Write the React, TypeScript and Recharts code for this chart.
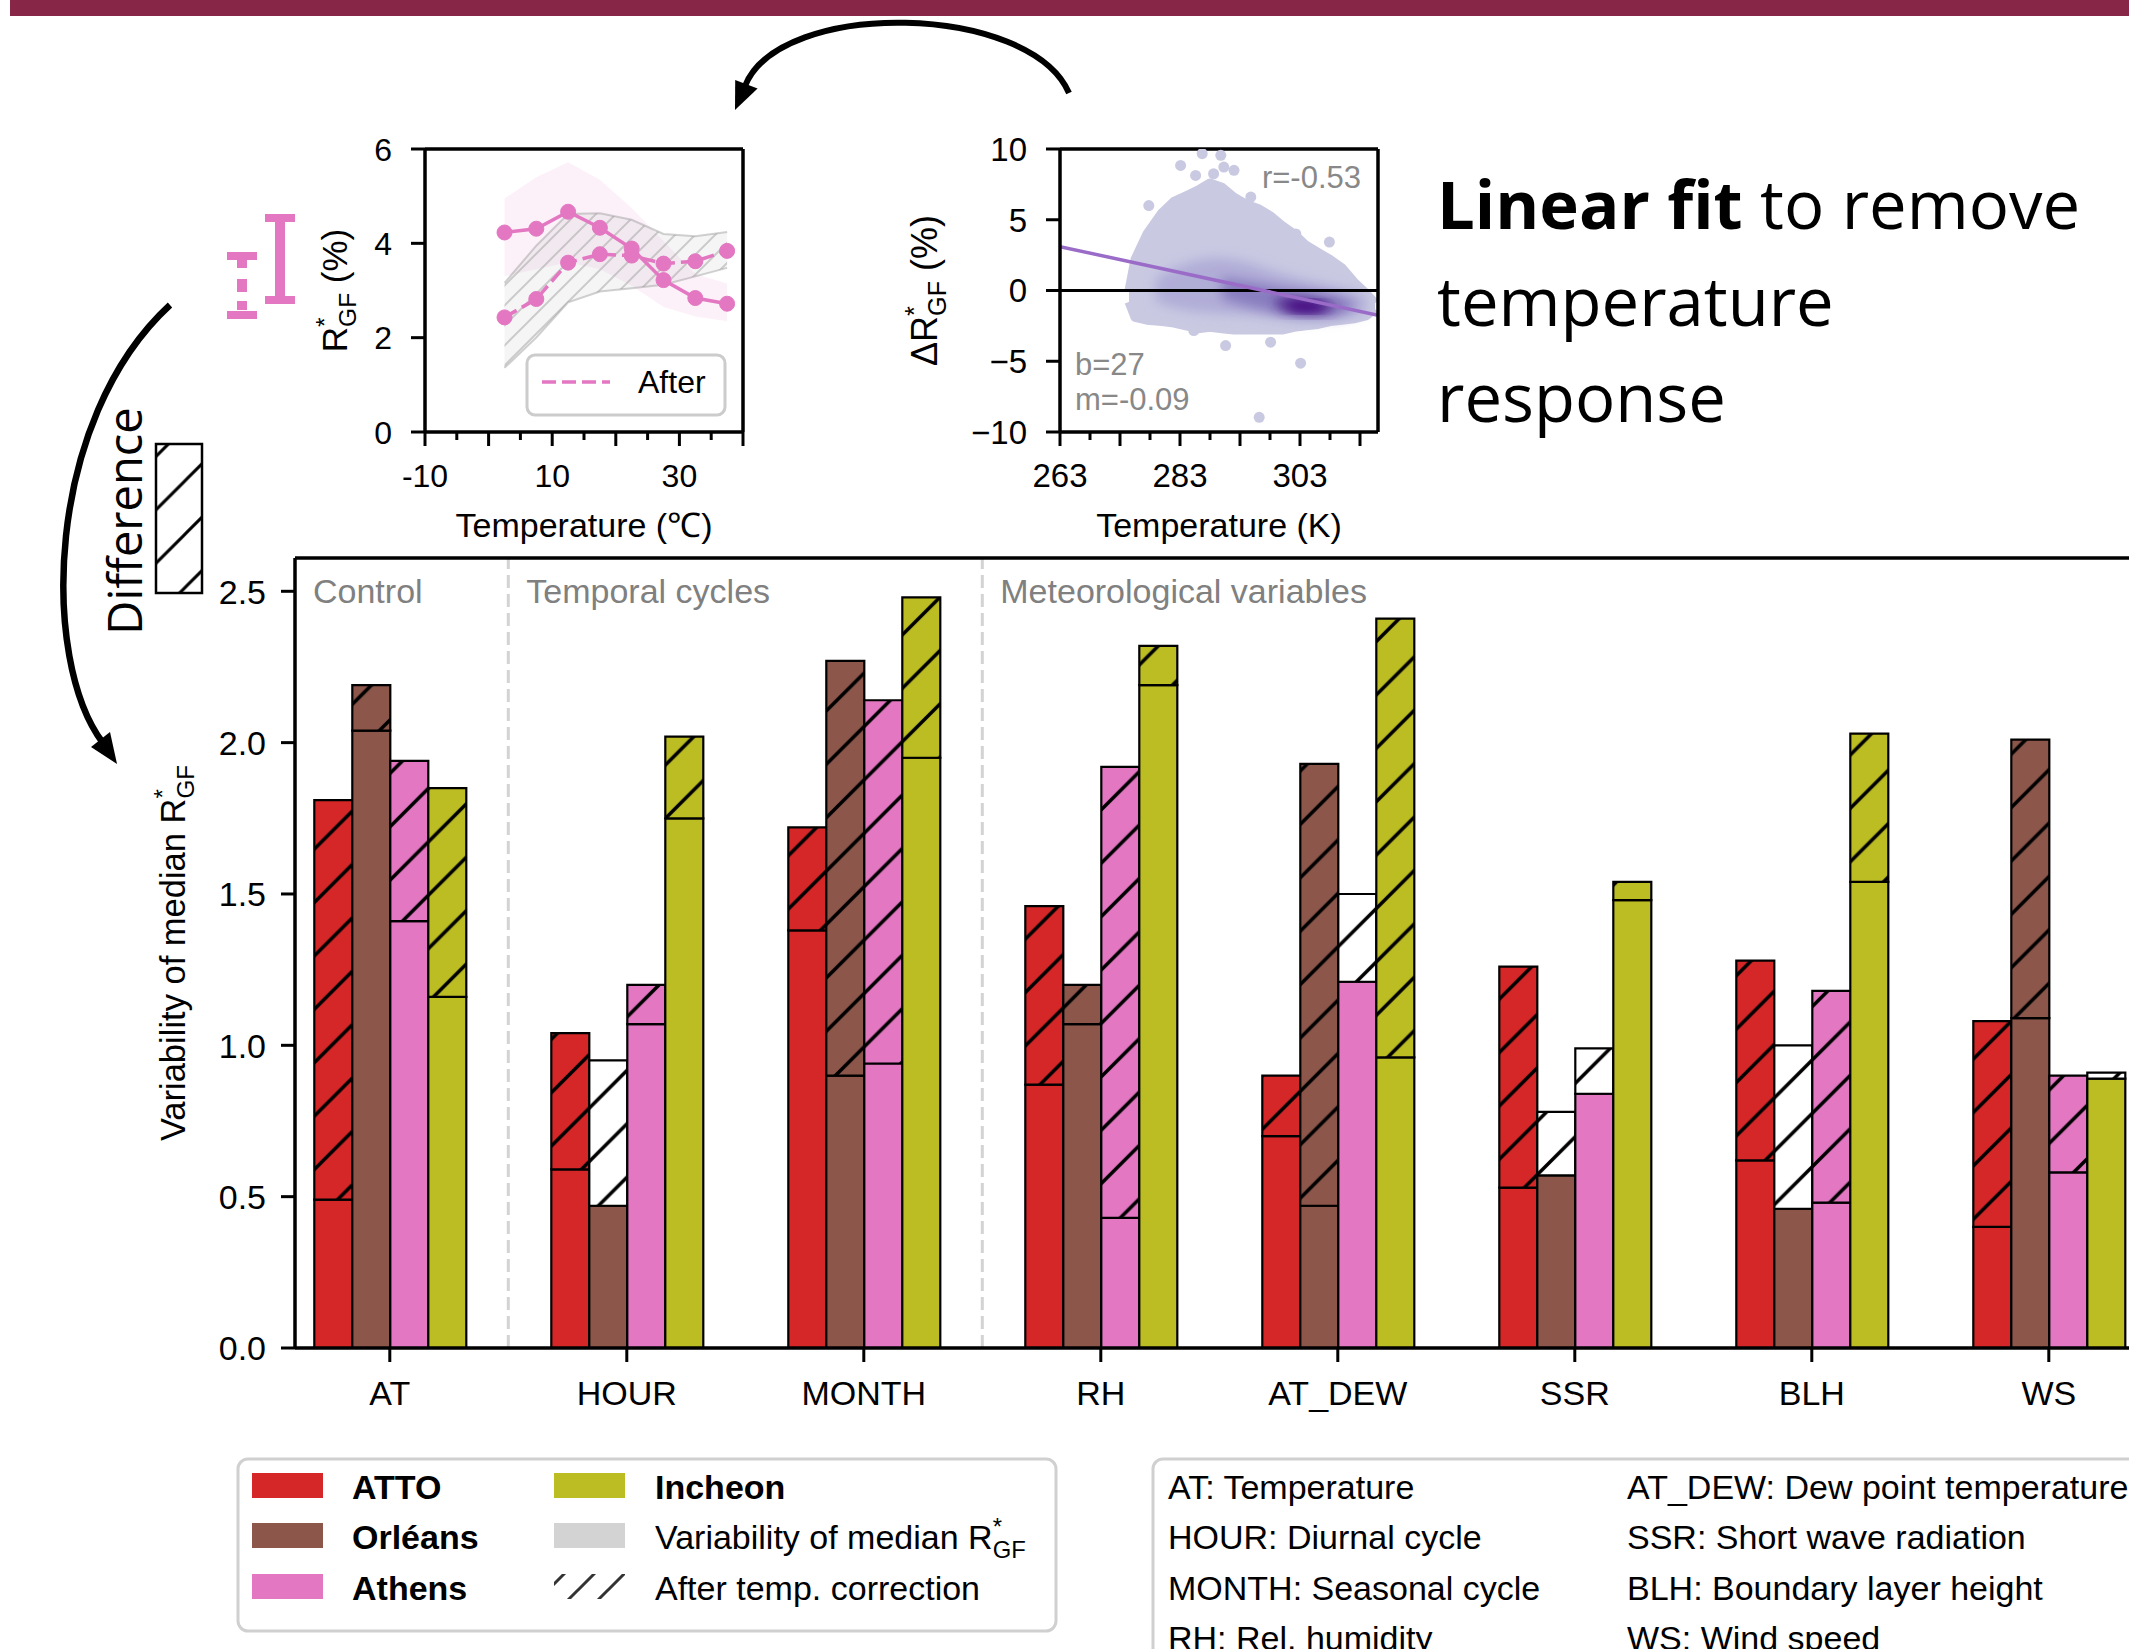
import React from 'react';
import {
  BarChart,
  Bar,
  Cell,
  ComposedChart,
  Line,
  Area,
  Scatter,
  XAxis,
  YAxis,
  ReferenceLine,
} from 'recharts';

const SANS = '"Liberation Sans", Arial, Helvetica, sans-serif';
const POSTER = '"Open Sans", "Noto Sans", sans-serif';

// ---------- main panel ----------
const variables = ['AT', 'HOUR', 'MONTH', 'RH', 'AT_DEW', 'SSR', 'BLH', 'WS'];
const variableNames = [
  'Temperature',
  'Diurnal cycle',
  'Seasonal cycle',
  'Rel. humidity',
  'Dew point temperature',
  'Short wave radiation',
  'Boundary layer height',
  'Wind speed',
];
const sites = ['ATTO', 'Orléans', 'Athens', 'Incheon'];
const siteKeys = ['atto', 'orleans', 'athens', 'incheon'];
const siteColors = ['#d62728', '#8c564b', '#e377c2', '#bcbd22'];

// variability of median R*GF, before / after the temperature correction
const attoBefore = [1.81, 1.04, 1.72, 1.46, 0.9, 1.26, 1.28, 1.08];
const attoAfter = [0.49, 0.59, 1.38, 0.87, 0.7, 0.53, 0.62, 0.4];
const orleansBefore = [2.19, 0.47, 2.27, 1.2, 1.93, 0.57, 0.46, 2.01];
const orleansAfter = [2.04, 0.95, 0.9, 1.07, 0.47, 0.78, 1.0, 1.09];
const athensBefore = [1.94, 1.2, 2.14, 1.92, 1.21, 0.84, 1.18, 0.9];
const athensAfter = [1.41, 1.07, 0.94, 0.43, 1.5, 0.99, 0.48, 0.58];
const incheonBefore = [1.85, 2.02, 2.48, 2.32, 2.41, 1.54, 2.03, 0.89];
const incheonAfter = [1.16, 1.75, 1.95, 2.19, 0.96, 1.48, 1.54, 0.91];

const groupLabels = ['Control', 'Temporal cycles', 'Meteorological variables'];
const groupStarts = [-0.4, 0.5, 2.5];
const mainYTicks = [0, 0.5, 1, 1.5, 2, 2.5];
const MAIN_YMAX = 2.61;
const MAIN_XDOMAIN = [-0.4, 7.389];

// ---------- inset: R*GF vs temperature ----------
const insetTemps = [2.5, 7.5, 12.5, 17.5, 22.5, 27.5, 32.5, 37.5];
const insetBefore = [4.23, 4.31, 4.67, 4.33, 3.89, 3.22, 2.84, 2.72];
const insetAfter = [2.43, 2.82, 3.59, 3.77, 3.74, 3.57, 3.62, 3.84];
const insetBeforeLo = [3.3, 3.45, 3.6, 3.45, 3.1, 2.65, 2.45, 2.35];
const insetBeforeHi = [4.95, 5.4, 5.72, 5.35, 4.75, 4.05, 3.35, 3.15];
const insetAfterLo = [1.36, 2.0, 2.75, 2.98, 3.05, 3.12, 3.3, 3.48];
const insetAfterHi = [3.16, 3.95, 4.62, 4.64, 4.5, 4.2, 4.15, 4.24];
const celsiusTicks = [-10, -5, 0, 5, 10, 15, 20, 25, 30, 35, 40];
const celsiusLabels = [-10, 10, 30];

// ---------- inset: delta R*GF vs temperature (K) ----------
const cloudT = [274.5, 275.5, 277.5, 280, 282, 284, 286, 288, 290, 292, 294, 296, 298, 300, 302, 304, 306, 308, 310, 312, 314, 315.5];
const cloudHi = [0.0, 2.2, 4.0, 5.5, 6.3, 6.7, 7.1, 7.6, 7.3, 6.6, 6.1, 5.8, 5.3, 4.6, 4.0, 3.2, 2.7, 2.2, 1.6, 0.6, -0.2, -0.9];
const cloudLo = [-0.8, -1.9, -2.1, -2.2, -2.3, -2.5, -2.7, -2.6, -2.7, -2.8, -2.8, -2.8, -2.8, -2.8, -2.6, -2.5, -2.4, -2.2, -2.1, -2.0, -1.8, -1.3];
const midT = [279, 284, 289, 294, 299, 304, 309, 314];
const midHi = [0.9, 1.9, 2.3, 2.0, 1.3, 0.7, 0.2, -0.4];
const midLo = [-0.8, -1.4, -1.6, -1.7, -1.9, -2.1, -2.0, -1.5];
const innerT = [290, 295, 300, 305, 310, 312];
const innerHi = [0.9, 0.6, 0.2, -0.1, -0.5, -0.8];
const innerLo = [-0.6, -1.2, -1.6, -1.8, -1.6, -1.2];
const darkT = [299, 302, 305, 307, 309];
const darkHi = [-0.5, -0.5, -0.6, -0.8, -1.0];
const darkLo = [-1.2, -1.6, -1.7, -1.6, -1.3];
const coreT = [301, 304, 307];
const coreHi = [-0.8, -0.8, -0.9];
const coreLo = [-1.3, -1.5, -1.3];
const outlierT = [283.1, 286.7, 289.8, 290.3, 292.0, 285.6, 288.6, 294.8, 277.8, 302.3, 307.9, 290.6, 298.1, 303.1, 296.2, 285.3];
const outlierV = [8.84, 9.67, 9.55, 8.72, 8.49, 8.13, 8.25, 6.6, 6.0, 4.0, 3.42, -3.89, -3.65, -5.14, -8.96, -2.83];
const fitT = [263, 316];
const fitV = [3.1, -1.75];
const kelvinTicks = [263, 268, 273, 278, 283, 288, 293, 298, 303, 308, 313];
const kelvinLabels = [263, 283, 303];
const deltaTicks = [-10, -5, 0, 5, 10];

// ---------- derived tables ----------
const beforeAll = [attoBefore, orleansBefore, athensBefore, incheonBefore];
const afterAll = [attoAfter, orleansAfter, athensAfter, incheonAfter];
const barRows = variables.map((name, i) => {
  const row: any = { name, idx: i };
  siteKeys.forEach((k, s) => {
    const b = beforeAll[s][i];
    const a = afterAll[s][i];
    row[`${k}Base`] = Math.min(a, b);
    row[`${k}Diff`] = Math.abs(b - a);
    row[`${k}Up`] = a > b;
  });
  return row;
});

const insetRows = insetTemps.map((t, i) => ({
  t,
  before: insetBefore[i],
  after: insetAfter[i],
  beforeBand: [insetBeforeLo[i], insetBeforeHi[i]],
  afterBand: [insetAfterLo[i], insetAfterHi[i]],
}));

const toRange = (ts: number[], lo: number[], hi: number[]) => ts.map((t, i) => ({ t, r: [lo[i], hi[i]] }));
const cloudOuter = toRange(cloudT, cloudLo, cloudHi);
const cloudMid = toRange(midT, midLo, midHi);
const cloudInner = toRange(innerT, innerLo, innerHi);
const cloudDark = toRange(darkT, darkLo, darkHi);
const cloudCore = toRange(coreT, coreLo, coreHi);
const outliers = outlierT.map((t, i) => ({ t, v: outlierV[i] }));
const fitLine = fitT.map((t, i) => ({ t, v: fitV[i] }));

// ---------- helpers ----------
const spine = { stroke: '#000', strokeWidth: 3.5 };

const xTick = (opts: { long?: (v: number) => boolean; label: (v: number) => string | null; size: number; offset: number }) => (p: any) => {
  const v = p.payload.value;
  const long = opts.long ? opts.long(v) : true;
  const lab = opts.label(v);
  return (
    <g>
      <line x1={p.x} x2={p.x} y1={p.y} y2={p.y + (long ? 14 : 8)} stroke="#000" strokeWidth={3} />
      {lab !== null && (
        <text x={p.x} y={p.y + opts.offset} textAnchor="middle" fontSize={opts.size} fill="#000">
          {lab}
        </text>
      )}
    </g>
  );
};

const yTick = (fmt: (v: number) => string, size: number, gap: number) => (p: any) => (
  <g>
    <line x1={p.x - 14} x2={p.x} y1={p.y} y2={p.y} stroke="#000" strokeWidth={3} />
    <text x={p.x - 14 - gap} y={p.y} dy="0.36em" textAnchor="end" fontSize={size} fill="#000">
      {fmt(p.payload.value)}
    </text>
  </g>
);

const Rgf = ({ size }: { size: number }) => (
  <>
    R
    <tspan dy={-0.4 * size} fontSize={0.7 * size}>*</tspan>
    <tspan dx={-0.27 * size} dy={0.65 * size} fontSize={0.7 * size}>GF</tspan>
  </>
);

const rotatedLabel = (offset: number, size: number, body: (size: number) => React.ReactNode) => (props: any) => {
  const vb = props.viewBox || props;
  const cx = vb.x + offset;
  const cy = vb.y + vb.height / 2;
  return (
    <text x={cx} y={cy} transform={`rotate(-90 ${cx} ${cy})`} textAnchor="middle" fontSize={size} fill="#000">
      {body(size)}
    </text>
  );
};

const bottomLabel = (text: string, offset: number, size: number) => (props: any) => {
  const vb = props.viewBox || props;
  return (
    <text x={vb.x + vb.width / 2} y={vb.y + offset} textAnchor="middle" fontSize={size} fill="#000">
      {text}
    </text>
  );
};

const sectionLabel = (text: string) => (props: any) => {
  const vb = props.viewBox || props;
  return (
    <text x={vb.x + 18} y={vb.y + 45} fontSize={34} fill="#808080">
      {text}
    </text>
  );
};

const HATCH = 53.4;
const hatchPath = `M${-HATCH / 4},${HATCH / 4} L${HATCH / 4},${-HATCH / 4} M0,${HATCH} L${HATCH},0 M${(HATCH * 3) / 4},${(HATCH * 5) / 4} L${(HATCH * 5) / 4},${(HATCH * 3) / 4}`;

const Patterns = () => (
  <svg width={0} height={0} style={{ position: 'absolute' }}>
    <defs>
      {siteKeys.map((k, s) => (
        <pattern key={k} id={`hatch-${k}`} patternUnits="userSpaceOnUse" x={36} y={0} width={HATCH} height={HATCH}>
          <rect width={HATCH} height={HATCH} fill={siteColors[s]} />
          <path d={hatchPath} stroke="#000" strokeWidth={3.5} />
        </pattern>
      ))}
      <pattern id="hatch-white" patternUnits="userSpaceOnUse" x={36} y={0} width={HATCH} height={HATCH}>
        <rect width={HATCH} height={HATCH} fill="#fff" />
        <path d={hatchPath} stroke="#000" strokeWidth={3.5} />
      </pattern>
      <pattern id="hatch-diff" patternUnits="userSpaceOnUse" x={25} y={0} width={HATCH} height={HATCH}>
        <rect width={HATCH} height={HATCH} fill="#fff" />
        <path d={hatchPath} stroke="#000" strokeWidth={3} />
      </pattern>
      <pattern id="hatch-legend" patternUnits="userSpaceOnUse" x={8} y={0} width={30} height={30}>
        <path d="M-7.5,7.5 L7.5,-7.5 M0,30 L30,0 M22.5,37.5 L37.5,22.5" stroke="#333" strokeWidth={3} />
      </pattern>
      <pattern id="hatch-band" patternUnits="userSpaceOnUse" width={20} height={20}>
        <rect width={20} height={20} fill="#bdbdbd" fillOpacity={0.15} />
        <path d="M-5,5 L5,-5 M0,20 L20,0 M15,25 L25,15" stroke="#9a9a9a" strokeOpacity={0.45} strokeWidth={2} />
      </pattern>
      <filter id="soft" x="-30%" y="-30%" width="160%" height="160%">
        <feGaussianBlur stdDeviation="6" />
      </filter>
    </defs>
  </svg>
);

// ---------- charts ----------
const TempInset = () => (
  <div style={{ position: 'absolute', left: 290, top: 120 }}>
    <ComposedChart width={473} height={440} data={insetRows} margin={{ top: 29, right: 20, bottom: 0, left: 0 }}>
      <XAxis
        dataKey="t"
        type="number"
        domain={[-10, 40]}
        ticks={celsiusTicks}
        interval={0}
        height={128}
        tickSize={0}
        tickMargin={0}
        axisLine={spine}
        tick={xTick({ long: (v) => v % 10 === 0, label: (v) => (celsiusLabels.includes(v) ? String(v) : null), size: 32, offset: 55 })}
        label={bottomLabel('Temperature (℃)', 105, 34)}
      />
      <YAxis
        type="number"
        domain={[0, 6]}
        ticks={[0, 2, 4, 6]}
        interval={0}
        width={135}
        tickSize={0}
        tickMargin={0}
        axisLine={spine}
        tick={yTick((v) => String(v), 32, 19)}
        label={rotatedLabel(57, 35, (s) => (
          <>
            <Rgf size={s} />
            <tspan dy={-0.25 * s}> (%)</tspan>
          </>
        ))}
      />
      <Area dataKey="beforeBand" type="linear" fill="#e377c2" fillOpacity={0.1} stroke="none" isAnimationActive={false} />
      <Area dataKey="afterBand" type="linear" fill="url(#hatch-band)" fillOpacity={1} stroke="#999" strokeOpacity={0.45} strokeWidth={2} isAnimationActive={false} />
      <Line dataKey="before" type="linear" stroke="#e377c2" strokeWidth={3.5} dot={{ r: 7.5, fill: '#e377c2', stroke: '#e377c2', strokeWidth: 1 }} activeDot={false} isAnimationActive={false} />
      <Line dataKey="after" type="linear" stroke="#e377c2" strokeWidth={3.5} strokeDasharray="14 6" dot={{ r: 7.5, fill: '#e377c2', stroke: '#e377c2', strokeWidth: 1, strokeDasharray: '' }} activeDot={false} isAnimationActive={false} />
      <ReferenceLine y={6} stroke="#000" strokeWidth={3.5} />
      <ReferenceLine x={40} stroke="#000" strokeWidth={3.5} />
    </ComposedChart>
  </div>
);

const FitInset = () => (
  <div style={{ position: 'absolute', left: 900, top: 120 }}>
    <ComposedChart width={498} height={440} margin={{ top: 29, right: 20, bottom: 0, left: 0 }}>
      <XAxis
        dataKey="t"
        type="number"
        domain={[263, 316]}
        ticks={kelvinTicks}
        interval={0}
        height={128}
        tickSize={0}
        tickMargin={0}
        axisLine={spine}
        allowDataOverflow
        tick={xTick({ long: (v) => (v - 263) % 10 === 0, label: (v) => (kelvinLabels.includes(v) ? String(v) : null), size: 33, offset: 55 })}
        label={bottomLabel('Temperature (K)', 105, 34)}
      />
      <YAxis
        type="number"
        domain={[-10, 10]}
        ticks={deltaTicks}
        interval={0}
        width={160}
        tickSize={0}
        tickMargin={0}
        axisLine={spine}
        allowDataOverflow
        tick={yTick((v) => (v < 0 ? `\u2212${Math.abs(v)}` : String(v)), 33, 19)}
        label={rotatedLabel(37, 36, (s) => (
          <>
            Δ<Rgf size={s} />
            <tspan dy={-0.25 * s}> (%)</tspan>
          </>
        ))}
      />
      <Area data={cloudOuter} dataKey="r" type="linear" fill="#c9c9e2" fillOpacity={1} stroke="#c9c9e2" strokeWidth={9} strokeLinejoin="round" isAnimationActive={false} />
      <Area data={cloudMid} dataKey="r" type="monotone" fill="#aeaad6" fillOpacity={0.9} stroke="none" filter="url(#soft)" isAnimationActive={false} />
      <Area data={cloudInner} dataKey="r" type="monotone" fill="#8478bc" fillOpacity={0.9} stroke="none" filter="url(#soft)" isAnimationActive={false} />
      <Area data={cloudDark} dataKey="r" type="monotone" fill="#54278f" fillOpacity={0.9} stroke="none" filter="url(#soft)" isAnimationActive={false} />
      <Area data={cloudCore} dataKey="r" type="monotone" fill="#3f007d" fillOpacity={1} stroke="none" filter="url(#soft)" isAnimationActive={false} />
      <Scatter
        data={outliers}
        dataKey="v"
        fill="#c9c9e2"
        isAnimationActive={false}
        shape={(p: any) => <circle cx={p.cx} cy={p.cy} r={5.5} fill="#c9c9e2" />}
      />
      <ReferenceLine y={0} stroke="#000" strokeWidth={3} />
      <Line data={fitLine} dataKey="v" type="linear" stroke="#9a6cc8" strokeWidth={3.5} dot={false} activeDot={false} isAnimationActive={false} />
      <ReferenceLine y={10} stroke="#000" strokeWidth={3.5} />
      <ReferenceLine x={316} stroke="#000" strokeWidth={3.5} />
    </ComposedChart>
  </div>
);

const MainChart = () => (
  <div style={{ position: 'absolute', left: 0, top: 540 }}>
    <BarChart width={2160} height={878} data={barRows} margin={{ top: 18, right: 19, bottom: 0, left: 0 }} barGap={0} barSize={38}>
      <XAxis
        dataKey="idx"
        type="number"
        domain={MAIN_XDOMAIN}
        ticks={variables.map((_, i) => i)}
        interval={0}
        height={70}
        tickSize={0}
        tickMargin={0}
        axisLine={spine}
        allowDataOverflow
        tick={xTick({ label: (v) => variables[v] ?? null, size: 34, offset: 57 })}
      />
      <YAxis
        type="number"
        domain={[0, MAIN_YMAX]}
        ticks={mainYTicks}
        interval={0}
        width={295}
        tickSize={0}
        tickMargin={0}
        axisLine={spine}
        allowDataOverflow
        tick={yTick((v) => v.toFixed(1), 34, 15)}
        label={rotatedLabel(185, 34.5, (s) => (
          <>
            Variability of median <Rgf size={s} />
          </>
        ))}
      />
      {groupStarts.map((x, g) => (
        <ReferenceLine
          key={g}
          x={x}
          stroke={g === 0 ? 'none' : '#d3d3d3'}
          strokeWidth={3}
          strokeDasharray="13 6"
          label={sectionLabel(groupLabels[g])}
        />
      ))}
      <ReferenceLine y={MAIN_YMAX} stroke="#000" strokeWidth={3.5} />
      {siteKeys.flatMap((k, s) => [
        <Bar key={`${k}-base`} dataKey={`${k}Base`} stackId={k} fill={siteColors[s]} stroke="#000" strokeWidth={2.2} isAnimationActive={false} />,
        <Bar key={`${k}-diff`} dataKey={`${k}Diff`} stackId={k} fill="#fff" stroke="#000" strokeWidth={2.2} isAnimationActive={false}>
          {barRows.map((r: any, i) => (
            <Cell key={i} fill={r[`${k}Up`] ? 'url(#hatch-white)' : `url(#hatch-${k})`} />
          ))}
        </Bar>,
      ])}
    </BarChart>
  </div>
);

// ---------- decorations & legends ----------
const siteLegend = [
  { label: sites[0], color: siteColors[0], bold: true },
  { label: sites[1], color: siteColors[1], bold: true },
  { label: sites[2], color: siteColors[2], bold: true },
  { label: sites[3], color: siteColors[3], bold: true },
  { label: 'Variability of median ', color: '#d3d3d3', bold: false, rgf: true },
  { label: 'After temp. correction', color: 'url(#hatch-legend)', bold: false },
];
const legendBaselines = [1499, 1549, 1600, 1650];

const Overlay = () => (
  <svg width={2129} height={1649} style={{ position: 'absolute', left: 0, top: 0 }} fontFamily={SANS}>
    <rect x={10} y={0} width={2119} height={16} fill="#872646" />

    {/* top arrow */}
    <path d="M 1069 93 C 1030 3, 780 -2, 745 86" stroke="#000" strokeWidth={6} fill="none" />
    <polygon points="735,110 757.6,88.5 735.2,80.1" fill="#000" />
    {/* left arrow */}
    <path d="M 170 305 C 45 420, 40 660, 103 743" stroke="#000" strokeWidth={6.5} fill="none" />
    <polygon points="117,764 110,732 91,747" fill="#000" />

    {/* error-bar icons */}
    <rect x={275} y={214} width={10} height={90} fill="#e377c2" />
    <rect x={265} y={214} width={30} height={8} fill="#e377c2" />
    <rect x={265} y={296} width={30} height={8} fill="#e377c2" />
    <rect x={227} y={252} width={30} height={8} fill="#e377c2" />
    <rect x={227} y={311} width={30} height={8} fill="#e377c2" />
    <line x1={242} x2={242} y1={260} y2={311} stroke="#e377c2" strokeWidth={10} strokeDasharray="8 11 13 9 9" />

    {/* difference icon */}
    <rect x={156} y={444} width={46} height={149} fill="url(#hatch-diff)" stroke="#000" strokeWidth={2.5} />
    <text x={142} y={521} transform="rotate(-90 142 521)" textAnchor="middle" fontFamily={POSTER} fontSize={47} fill="#000">
      Difference
    </text>

    {/* headline */}
    <text x={1437} y={229} fontFamily={POSTER} fontSize={67} fill="#000">
      <tspan fontWeight={700}>Linear fit</tspan> to remove
    </text>
    <text x={1437} y={326} fontFamily={POSTER} fontSize={67} fill="#000">
      temperature
    </text>
    <text x={1437} y={422} fontFamily={POSTER} fontSize={67} fill="#000">
      response
    </text>

    {/* inset 1 legend */}
    <rect x={527} y={355} width={198} height={60} rx={8} fill="#fff" fillOpacity={0.8} stroke="#cccccc" strokeWidth={3} />
    <line x1={542} x2={610} y1={382} y2={382} stroke="#e377c2" strokeWidth={3.5} strokeDasharray="14 6" />
    <text x={638} y={393} fontSize={32} fill="#000">After</text>

    {/* inset 2 annotations */}
    <text x={1361} y={188} textAnchor="end" fontSize={31} fill="#888">r=-0.53</text>
    <text x={1075} y={375} fontSize={31} fill="#888">b=27</text>
    <text x={1075} y={410} fontSize={31} fill="#888">m=-0.09</text>

    {/* site legend */}
    <rect x={238} y={1459} width={818} height={172} rx={10} fill="#fff" stroke="#d0d0d0" strokeWidth={3} />
    {siteLegend.map((item, i) => {
      const col = Math.floor(i / 3);
      const row = i % 3;
      const px = col === 0 ? 252 : 554;
      const tx = col === 0 ? 352 : 655;
      const base = legendBaselines[row];
      return (
        <g key={i}>
          <rect x={px} y={base - 26} width={71} height={25} fill={item.color} />
          <text x={tx} y={base} fontSize={34} fontWeight={item.bold ? 700 : 400} fill="#000">
            {item.label}
            {item.rgf && <Rgf size={34} />}
          </text>
        </g>
      );
    })}

    {/* abbreviation legend */}
    <rect x={1153} y={1459} width={1100} height={300} rx={10} fill="#fff" stroke="#d0d0d0" strokeWidth={3} />
    {variables.map((v, i) => (
      <text key={v} x={i < 4 ? 1168 : 1627} y={legendBaselines[i % 4]} fontSize={34} fill="#000">
        {`${v}: ${variableNames[i]}`}
      </text>
    ))}
  </svg>
);

export default function App() {
  return (
    <div
      style={{
        position: 'absolute',
        left: 0,
        top: 0,
        width: 2129,
        height: 1649,
        overflow: 'hidden',
        background: '#fff',
        fontFamily: SANS,
      }}
    >
      <Patterns />
      <MainChart />
      <TempInset />
      <FitInset />
      <Overlay />
    </div>
  );
}
